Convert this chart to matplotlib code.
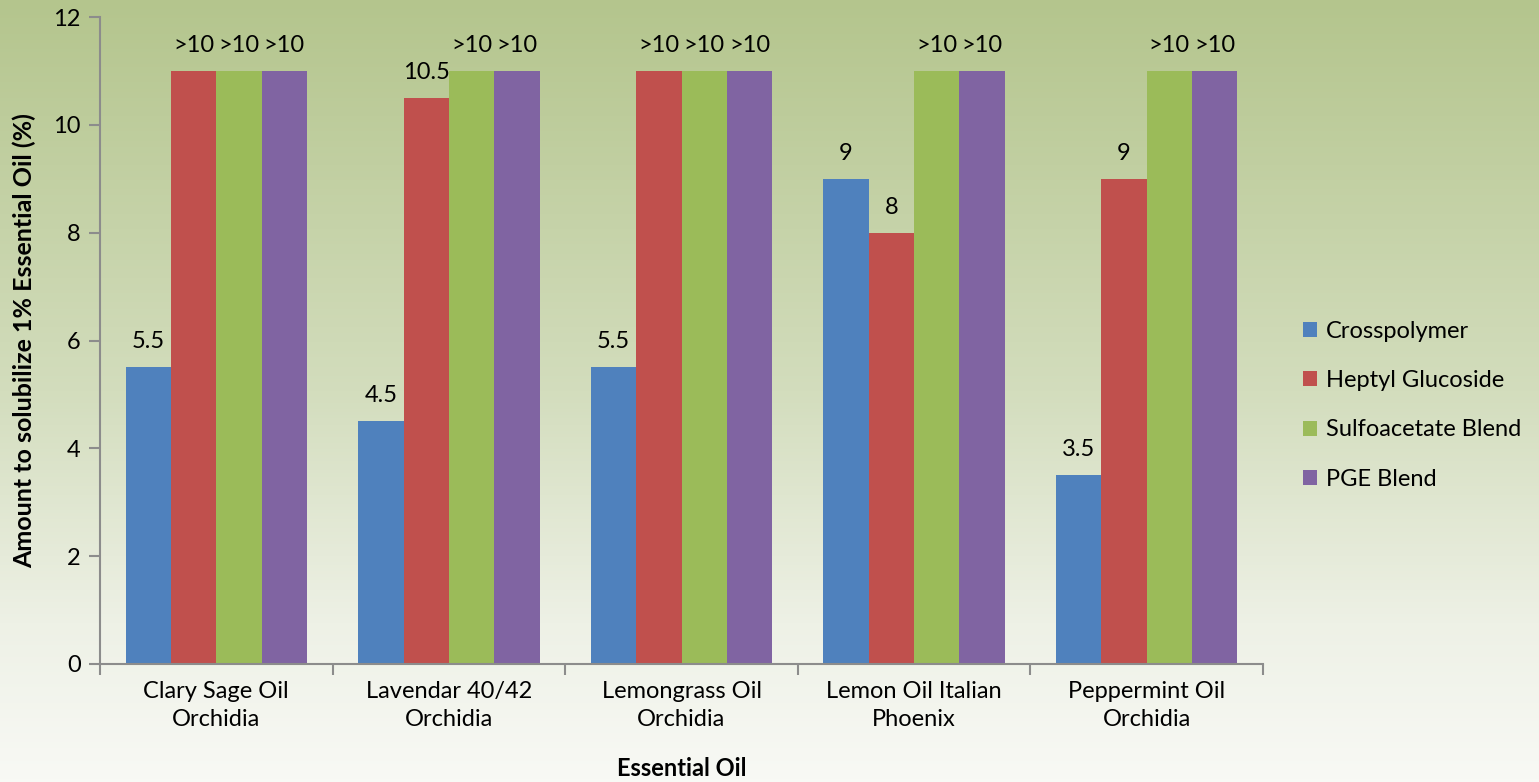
import numpy as np
import matplotlib
matplotlib.use("Agg")
import matplotlib.pyplot as plt
from matplotlib.colors import LinearSegmentedColormap

plt.rcParams['font.family'] = ['Lato', 'DejaVu Sans']

oils = ["Clary Sage Oil\nOrchidia", "Lavendar 40/42\nOrchidia", "Lemongrass Oil\nOrchidia",
        "Lemon Oil Italian\nPhoenix", "Peppermint Oil\nOrchidia"]
series = ["Crosspolymer", "Heptyl Glucoside", "Sulfoacetate Blend", "PGE Blend"]
colors = ["#4f81bd", "#c0504d", "#9bbb59", "#8064a2"]

# bars above the tested range (>10) are drawn at 11
crosspolymer = [5.5, 4.5, 5.5, 9, 3.5]
heptyl = [11, 10.5, 11, 8, 9]
sulfoacetate = [11, 11, 11, 11, 11]
pge = [11, 11, 11, 11, 11]

crosspolymer_lbl = ["5.5", "4.5", "5.5", "9", "3.5"]
heptyl_lbl = [">10", "10.5", ">10", "8", "9"]
sulfoacetate_lbl = [">10", ">10", ">10", ">10", ">10"]
pge_lbl = [">10", ">10", ">10", ">10", ">10"]

values = [crosspolymer, heptyl, sulfoacetate, pge]
labels = [crosspolymer_lbl, heptyl_lbl, sulfoacetate_lbl, pge_lbl]

fs = 17

fig = plt.figure(figsize=(15.39, 7.82), dpi=100)

# background gradient, green at top fading to white
bg = fig.add_axes([0, 0, 1, 1], zorder=-10)
cmap = LinearSegmentedColormap.from_list(
    "bg", [(0, "#b4c58d"), (0.5, "#d3ddbd"), (0.8, "#eef1e6"), (1, "#f8f9f5")])
grad = np.linspace(0, 1, 256).reshape(-1, 1)
bg.imshow(grad, aspect="auto", cmap=cmap, extent=[0, 1, 0, 1])
bg.axis("off")

ax = fig.add_axes([100 / 1539, 1 - 664 / 782, 1163 / 1539, 647 / 782])
ax.patch.set_alpha(0)

x = np.arange(len(oils))
w = 0.195
for i, (vals, lbls) in enumerate(zip(values, labels)):
    pos = x + (i - 1.5) * w
    ax.bar(pos, vals, width=w, color=colors[i], label=series[i])
    for p, v, t in zip(pos, vals, lbls):
        ax.text(p, v + 0.28, t, ha="center", va="bottom", fontsize=fs)

ax.set_xlim(-0.5, len(oils) - 0.5)
ax.set_ylim(0, 12)
ax.set_yticks(np.arange(0, 13, 2))
ax.set_xticks(x)
ax.set_xticklabels(oils, fontsize=fs, linespacing=1.45)
ax.set_xticks(np.arange(-0.5, len(oils), 1), minor=True)
ax.tick_params(axis="x", which="major", length=0, pad=12)
ax.tick_params(axis="x", which="minor", length=8, color="#8c8c8c", width=1.5)
ax.tick_params(axis="y", labelsize=fs, length=8, color="#8c8c8c", width=1.5, pad=6)
for s in ["top", "right"]:
    ax.spines[s].set_visible(False)
for s in ["left", "bottom"]:
    ax.spines[s].set_color("#8c8c8c")
    ax.spines[s].set_linewidth(1.5)

ax.set_ylabel("Amount to solubilize 1% Essential Oil (%)", fontsize=18, fontweight="bold", labelpad=12)
ax.set_xlabel("Essential Oil", fontsize=fs, fontweight="bold", labelpad=19)

ax.legend(loc="center left", frameon=False, fontsize=fs, borderaxespad=0, borderpad=0,
          handlelength=0.6, handleheight=0.6, handletextpad=0.4, labelspacing=1.2)
leg = ax.get_legend()
leg.set_bbox_to_anchor((1.034, 0.0, 0.2, 0.8), transform=ax.transAxes)

fig.savefig("out.png", dpi=100)
